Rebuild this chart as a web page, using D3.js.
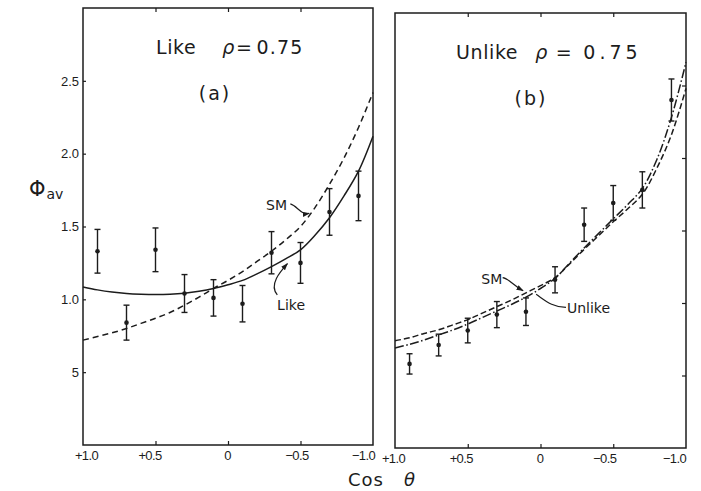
<!DOCTYPE html>
<html>
<head>
<meta charset="utf-8">
<script src="https://cdn.jsdelivr.net/npm/d3@7"></script>
<style>
  html, body { margin: 0; padding: 0; background: #fff; }
  svg { display: block; font-family: "DejaVu Sans", "Liberation Sans", sans-serif; }
  .axis text { font-size: 13px; fill: #1c1c1c; }
  .axis line { stroke: #1c1c1c; stroke-width: 1.2; }
  .axis .domain { display: none; }
</style>
</head>
<body>
<div id="chart"></div>
<script>
// axis ticks
const cosTicks = [1, 0.5, 0, -0.5, -1];
const cosTickLabels = ['+1.0', '+0.5', '0', '\u22120.5', '\u22121.0'];
const innerCosTicks = [0.5, 0, -0.5];
const phiTicks = [0.5, 1.0, 1.5, 2.0, 2.5];
const phiTickLabels = ['5', '1.0', '1.5', '2.0', '2.5'];

// (a) like, rho = 0.75 : measured points
const likeCos = [0.9, 0.7, 0.5, 0.3, 0.1, -0.1, -0.3, -0.5, -0.7, -0.9];
const likePhi = [1.33, 0.84, 1.34, 1.04, 1.01, 0.97, 1.32, 1.25, 1.60, 1.71];
const likeErr = [0.15, 0.12, 0.15, 0.13, 0.125, 0.125, 0.145, 0.14, 0.16, 0.17];

// (a) curves
const curveCosA = [1.0, 0.9, 0.8, 0.7, 0.6, 0.5, 0.4, 0.3, 0.2, 0.1, 0.0, -0.1, -0.2, -0.3, -0.4, -0.5, -0.6, -0.7, -0.8, -0.9, -1.0];
const likeFit = [1.085, 1.065, 1.05, 1.04, 1.035, 1.033, 1.035, 1.042, 1.055, 1.074, 1.10, 1.13, 1.175, 1.225, 1.28, 1.34, 1.44, 1.56, 1.71, 1.88, 2.12];
const smFitA  = [0.72, 0.745, 0.77, 0.80, 0.835, 0.87, 0.91, 0.96, 1.015, 1.075, 1.13, 1.19, 1.26, 1.33, 1.41, 1.50, 1.63, 1.79, 1.97, 2.18, 2.42];

// (b) unlike, rho = 0.75 : measured points
const unlikeCos = [0.9, 0.7, 0.5, 0.3, 0.1, -0.1, -0.3, -0.5, -0.7, -0.9];
const unlikePhi = [0.58, 0.71, 0.81, 0.92, 0.94, 1.16, 1.54, 1.69, 1.78, 2.40];
const unlikeErr = [0.07, 0.075, 0.085, 0.09, 0.095, 0.09, 0.115, 0.12, 0.125, 0.145];

// (b) curves
const curveCosB = [1.0, 0.9, 0.8, 0.7, 0.6, 0.5, 0.4, 0.3, 0.2, 0.1, 0.0, -0.1, -0.2, -0.3, -0.4, -0.5, -0.6, -0.7, -0.8, -0.9, -1.0];
const smFitB     = [0.74, 0.76, 0.79, 0.815, 0.85, 0.885, 0.93, 0.975, 1.02, 1.07, 1.12, 1.175, 1.27, 1.37, 1.465, 1.56, 1.65, 1.75, 1.93, 2.16, 2.48];
const unlikeFitB = [0.69, 0.715, 0.745, 0.78, 0.815, 0.855, 0.90, 0.945, 0.99, 1.04, 1.10, 1.17, 1.275, 1.38, 1.48, 1.58, 1.68, 1.79, 1.99, 2.28, 2.66];

const W = 701, H = 491;
const INK = '#1c1c1c';

const svg = d3.select('#chart').append('svg')
  .attr('width', W)
  .attr('height', H);

svg.append('defs').append('marker')
  .attr('id', 'tip')
  .attr('viewBox', '0 0 10 10')
  .attr('refX', 9).attr('refY', 5)
  .attr('markerWidth', 6).attr('markerHeight', 6)
  .attr('orient', 'auto')
  .append('path')
  .attr('d', 'M0,1.5 L10,5 L0,8.5 Z')
  .attr('fill', INK);

function drawPanel(p) {
  const x = d3.scaleLinear().domain([1, -1]).range([p.left, p.right]);
  const y = d3.scaleLinear().domain([0, 3]).range([p.bottom, p.top]);
  const g = svg.append('g');

  // frame
  g.append('rect')
    .attr('x', p.left).attr('y', p.top)
    .attr('width', p.right - p.left).attr('height', p.bottom - p.top)
    .attr('fill', 'none')
    .attr('stroke', INK)
    .attr('stroke-width', 1.5);

  // bottom axis with labels (hand lettering sits a bit left of the ticks)
  g.append('g').attr('class', 'axis')
    .attr('transform', `translate(0,${p.bottom})`)
    .call(d3.axisBottom(x).tickValues(cosTicks)
      .tickSize(0).tickPadding(6)
      .tickFormat((d, i) => cosTickLabels[i]))
    .selectAll('.tick text')
    .attr('letter-spacing', -0.6)
    .attr('dx', (d, i) => p.labelShift[i]);

  // inner ticks top / bottom
  g.append('g').attr('class', 'axis')
    .attr('transform', `translate(0,${p.bottom})`)
    .call(d3.axisBottom(x).tickValues(innerCosTicks).tickSize(-4).tickFormat(''));
  g.append('g').attr('class', 'axis')
    .attr('transform', `translate(0,${p.top})`)
    .call(d3.axisTop(x).tickValues(innerCosTicks).tickSize(-4).tickFormat(''));

  if (p.yLabels) {
    g.append('g').attr('class', 'axis')
      .attr('transform', `translate(${p.left},0)`)
      .call(d3.axisLeft(y).tickValues(phiTicks)
        .tickSize(-3).tickPadding(4)
        .tickFormat((d, i) => phiTickLabels[i]));
  } else {
    g.append('g').attr('class', 'axis')
      .attr('transform', `translate(${p.right},0)`)
      .call(d3.axisRight(y).tickValues(phiTicks).tickSize(-4).tickFormat(''));
  }

  // fitted curves
  p.curves.forEach(c => {
    const line = d3.line()
      .curve(d3.curveCatmullRom.alpha(0.5))
      .x((d, i) => x(c.cos[i]))
      .y(d => y(d));
    g.append('path')
      .attr('d', line(c.values))
      .attr('fill', 'none')
      .attr('stroke', INK)
      .attr('stroke-width', 1.5)
      .attr('stroke-dasharray', c.dash);
  });

  // data points with error bars
  const pts = p.cos.map((c, i) => ({ c, v: p.phi[i], e: p.err[i] }));
  const pg = g.append('g').selectAll('g').data(pts).join('g');
  pg.append('line')
    .attr('x1', d => x(d.c)).attr('x2', d => x(d.c))
    .attr('y1', d => y(d.v + d.e)).attr('y2', d => y(d.v - d.e))
    .attr('stroke', INK).attr('stroke-width', 1.4);
  [1, -1].forEach(s => {
    pg.append('line')
      .attr('x1', d => x(d.c) - 3).attr('x2', d => x(d.c) + 3)
      .attr('y1', d => y(d.v + s * d.e)).attr('y2', d => y(d.v + s * d.e))
      .attr('stroke', INK).attr('stroke-width', 1.4);
  });
  pg.append('circle')
    .attr('cx', d => x(d.c)).attr('cy', d => y(d.v))
    .attr('r', 2.3).attr('fill', INK);

  // titles
  const t = g.append('text')
    .attr('x', p.titleX).attr('y', p.top + 46)
    .attr('font-size', 19).attr('fill', INK)
    .attr('letter-spacing', 0.6);
  t.append('tspan').text(p.title);
  t.append('tspan').attr('dx', p.rhoGap).attr('font-style', 'italic').text('\u03c1');
  t.append('tspan').attr('dx', p.eqGap).text('=');
  t.append('tspan').attr('dx', p.eqGap + 3)
    .attr('letter-spacing', p.numSpacing).text('0.75');

  g.append('text')
    .attr('x', p.tagX).attr('y', p.top + 92)
    .attr('text-anchor', 'middle')
    .attr('font-size', 19).attr('fill', INK)
    .attr('letter-spacing', 2)
    .text(p.tag);

  // annotations
  p.notes.forEach(n => {
    g.append('text')
      .attr('x', x(n.tc)).attr('y', y(n.tv))
      .attr('text-anchor', 'middle')
      .attr('dy', '0.35em')
      .attr('font-size', 14).attr('fill', INK)
      .text(n.text);
    const pth = d3.path();
    pth.moveTo(x(n.path[0][0]), y(n.path[0][1]));
    pth.bezierCurveTo(x(n.path[1][0]), y(n.path[1][1]),
      x(n.path[2][0]), y(n.path[2][1]),
      x(n.path[3][0]), y(n.path[3][1]));
    g.append('path')
      .attr('d', pth.toString())
      .attr('fill', 'none')
      .attr('stroke', INK)
      .attr('stroke-width', 1.2)
      .attr('marker-end', n.arrow ? 'url(#tip)' : null);
  });
}

drawPanel({
  left: 83, right: 373, top: 8, bottom: 445,
  yLabels: true, labelShift: [3, -6, -1, -4, -10],
  title: 'Like', titleX: 156, rhoGap: 26, eqGap: 1, numSpacing: 1.2,
  tag: '(a)', tagX: 215,
  cos: likeCos, phi: likePhi, err: likeErr,
  curves: [
    { cos: curveCosA, values: likeFit, dash: null },
    { cos: curveCosA, values: smFitA, dash: '6,4' }
  ],
  notes: [
    { text: 'SM', tc: -0.335, tv: 1.645,
      path: [[-0.43, 1.655], [-0.48, 1.64], [-0.50, 1.58], [-0.56, 1.59]], arrow: true },
    { text: 'Like', tc: -0.435, tv: 0.96,
      path: [[-0.34, 1.03], [-0.28, 1.10], [-0.36, 1.19], [-0.41, 1.245]], arrow: true }
  ]
});

drawPanel({
  left: 395, right: 686, top: 13, bottom: 448,
  yLabels: false, labelShift: [-2, -7, -1, -9, -12],
  title: 'Unlike', titleX: 456, rhoGap: 17, eqGap: 8, numSpacing: 4,
  tag: '(b)', tagX: 531,
  cos: unlikeCos, phi: unlikePhi, err: unlikeErr,
  curves: [
    { cos: curveCosB, values: smFitB, dash: '6,3' },
    { cos: curveCosB, values: unlikeFitB, dash: '9,2.5,1.5,2.5' }
  ],
  notes: [
    { text: 'SM', tc: 0.335, tv: 1.165,
      path: [[0.26, 1.175], [0.22, 1.17], [0.20, 1.13], [0.12, 1.085]], arrow: true },
    { text: 'Unlike', tc: -0.33, tv: 0.965,
      path: [[-0.175, 0.97], [-0.08, 0.97], [-0.03, 1.02], [0.03, 1.06]], arrow: false }
  ]
});

// shared axis titles
const yl = svg.append('text')
  .attr('x', 29).attr('y', 196)
  .attr('fill', INK);
yl.append('tspan').attr('font-size', 21).text('\u03a6');
yl.append('tspan').attr('font-size', 14).attr('dy', 3).attr('dx', 1).text('av');

const xl = svg.append('text')
  .attr('x', 348).attr('y', 486)
  .attr('fill', INK)
  .attr('font-size', 18)
  .attr('letter-spacing', 1);
xl.append('tspan').text('Cos');
xl.append('tspan').attr('dx', 20).attr('font-style', 'italic').text('\u03b8');
</script>
</body>
</html>
